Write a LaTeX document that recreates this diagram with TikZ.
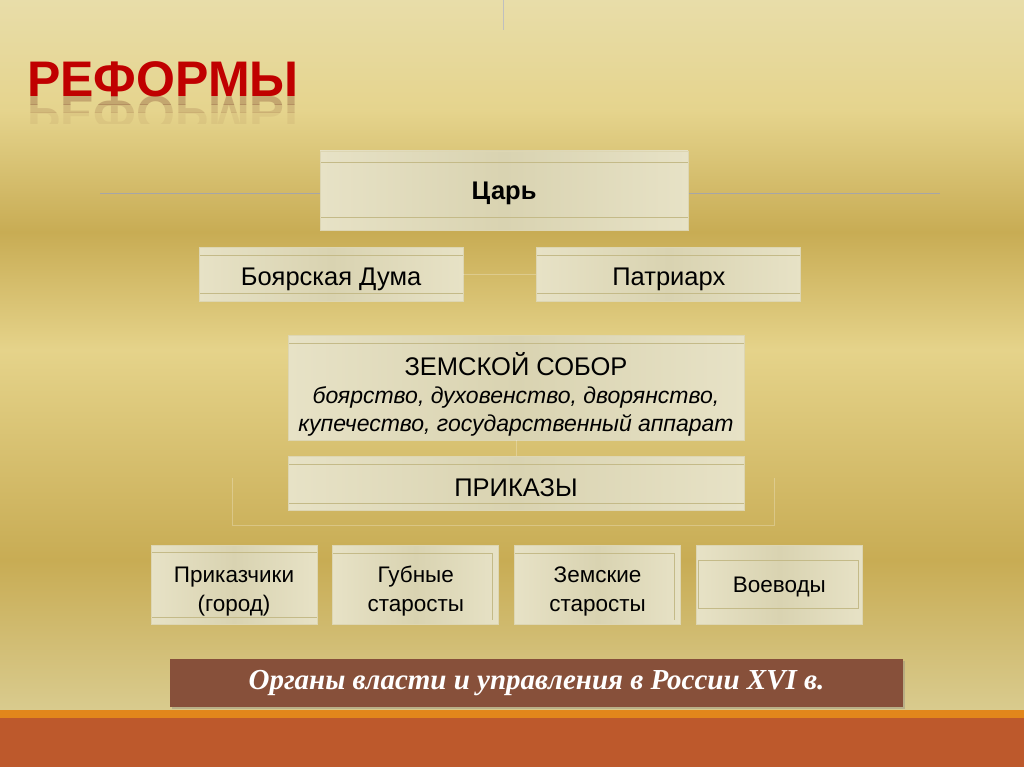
\documentclass[tikz,border=0pt]{standalone}
\usepackage{fontspec}
\setmainfont{Liberation Sans}
\newfontfamily\captionserif{Liberation Serif}
\usetikzlibrary{positioning,shadows}
\definecolor{GoldPale}{HTML}{E8DDA9}
\definecolor{GoldDeep}{HTML}{C8AC54}
\definecolor{GoldLight}{HTML}{E5D38A}
\definecolor{GoldSand}{HTML}{D9CB8E}
\definecolor{PlankEdge}{HTML}{E7E2C6}
\definecolor{PlankMid}{HTML}{D9D3B1}
\definecolor{PlankLine}{HTML}{C4BA88}
\definecolor{TitleRed}{HTML}{C00000}
\definecolor{BannerBrown}{HTML}{87503A}
\definecolor{StripeOrange}{HTML}{E2861B}
\definecolor{RustBase}{HTML}{BD592C}
\newcommand{\droptext}[1]{\rule{0pt}{#1}}

\begin{document}
\begin{tikzpicture}[
    x=1pt, y=-1pt,
    every node/.style={align=center, inner sep=0pt},
    plank/.style={draw=PlankEdge!70!PlankLine, line width=0.8pt, left color=PlankEdge,
      right color=PlankEdge, middle color=PlankMid, text=black, text depth=0pt,
      font=\fontsize{25.5}{28}\selectfont},
    bands/.style 2 args={path picture={
      \draw[PlankLine, line width=1pt] ([yshift=-#1]path picture bounding box.north west)
        -- ([yshift=-#1]path picture bounding box.north east);
      \draw[PlankLine, line width=1pt] ([yshift=#2]path picture bounding box.south west)
        -- ([yshift=#2]path picture bounding box.south east);}},
    topband/.style={path picture={
      \draw[PlankLine, line width=1pt] ([yshift=-#1]path picture bounding box.north west)
        -- ([yshift=-#1]path picture bounding box.north east);}},
    stacked/.style={path picture={
      \draw[PlankLine, line width=1pt] ([yshift=-8pt]path picture bounding box.north west)
        -- ([xshift=-6pt,yshift=-8pt]path picture bounding box.north east)
        -- ([xshift=-6pt,yshift=4pt]path picture bounding box.south east);}},
    inset/.style={path picture={
      \draw[PlankLine, line width=1pt] ([xshift=2pt,yshift=-15pt]path picture bounding box.north west)
        rectangle ([xshift=-4pt,yshift=16pt]path picture bounding box.south east);}},
    rowbox/.style={plank, minimum width=166pt, minimum height=79pt,
      font=\fontsize{22.5}{29}\selectfont},
    rule/.style={draw=black!35, line width=0.8pt},
    wire/.style={draw=white, line width=0.8pt, opacity=0.25},
    heading/.style={font=\fontsize{50}{50}\selectfont\bfseries, anchor=base west},
    banner/.style={fill=BannerBrown, minimum width=733pt, minimum height=48pt,
      drop shadow={shadow xshift=2pt, shadow yshift=-2pt, opacity=0.35},
      text=white, font=\captionserif\bfseries\itshape\fontsize{29}{29}\selectfont}
  ]
  % background
  \useasboundingbox (0,0) rectangle (1024,767);
  \shade[top color=GoldPale, bottom color=GoldLight!90!GoldPale] (0,0) rectangle (1024,110);
  \shade[top color=GoldLight!90!GoldPale, bottom color=GoldDeep] (0,110) rectangle (1024,232);
  \shade[top color=GoldDeep, bottom color=GoldLight] (0,232) rectangle (1024,350);
  \shade[top color=GoldLight, bottom color=GoldDeep] (0,350) rectangle (1024,560);
  \shade[top color=GoldDeep, bottom color=GoldSand] (0,560) rectangle (1024,710);
  \fill[StripeOrange] (0,710) rectangle (1024,718);
  \fill[RustBase] (0,718) rectangle (1024,767);

  % title with reflection
  \node[heading, text=TitleRed] (title) at (27,97) {РЕФОРМЫ};
  \foreach \ya/\yb/\op in {97/105/0.22, 105/113/0.12, 113/124/0.05}{
    \begin{scope}
      \clip (0,\ya) rectangle (330,\yb);
      \node[heading, yscale=-1, text=TitleRed!40!black, text opacity=\op] at (27,97) {РЕФОРМЫ};
    \end{scope}
  }
  \coordinate (tickTop) at (503,0);
  \coordinate (tickBot) at (503,30);
  \draw[rule, draw=black!25] (tickTop) -- (tickBot);

  % rule behind the tsar
  \coordinate (ruleL) at (100,193);
  \coordinate (ruleR) at (940,193);
  \draw[rule] (ruleL) -- (ruleR);

  \node[plank, bands={12pt}{12pt}, minimum width=368pt, minimum height=79pt,
    font=\fontsize{25.5}{28}\selectfont\bfseries] (tsar) at (504,190.5) {Царь};
  \node[plank, bands={8pt}{8pt}, minimum width=264pt, minimum height=54pt] (duma) at (331,274) {\droptext{22.5pt}Боярская Дума};
  \node[plank, bands={8pt}{8pt}, minimum width=264pt, minimum height=54pt, right=73pt of duma] (patriarch) {\droptext{22.5pt}Патриарх};
  \draw[wire] (duma) -- (patriarch);

  \node[plank, topband=8pt, minimum width=456pt, minimum height=105pt] (sobor) at (516,387.5)
    {\droptext{31pt}ЗЕМСКОЙ СОБОР\\
     {\fontsize{23}{28}\selectfont\itshape боярство, духовенство, дворянство,}\\
     {\fontsize{23}{28}\selectfont\itshape купечество, государственный аппарат}};
  \node[plank, bands={8pt}{7pt}, minimum width=456pt, minimum height=54pt, below=16pt of sobor] (prikazy) {\droptext{24.5pt}ПРИКАЗЫ};
  \draw[wire] (sobor) -- (prikazy);
  \coordinate (brLtop) at (232,478);
  \coordinate (brLbot) at (232,525);
  \coordinate (brRbot) at (774,525);
  \coordinate (brRtop) at (774,478);
  \draw[wire] (brLtop) -- (brLbot) -- (brRbot) -- (brRtop);

  % local officials
  \node[rowbox, bands={7pt}{7pt}] (clerks) at (234,584.5) {\droptext{25pt}Приказчики\\(город)};
  \node[rowbox, stacked, right=15pt of clerks] (gubnye) {\droptext{25pt}Губные\\старосты};
  \node[rowbox, stacked, right=15pt of gubnye] (zemskie) {\droptext{25pt}Земские\\старосты};
  \node[rowbox, inset, right=15pt of zemskie] (voevody) {Воеводы};

  % caption
  \node[banner] (caption) at (536.5,683) {Органы власти и управления в России XVI в.};
\end{tikzpicture}
\end{document}
